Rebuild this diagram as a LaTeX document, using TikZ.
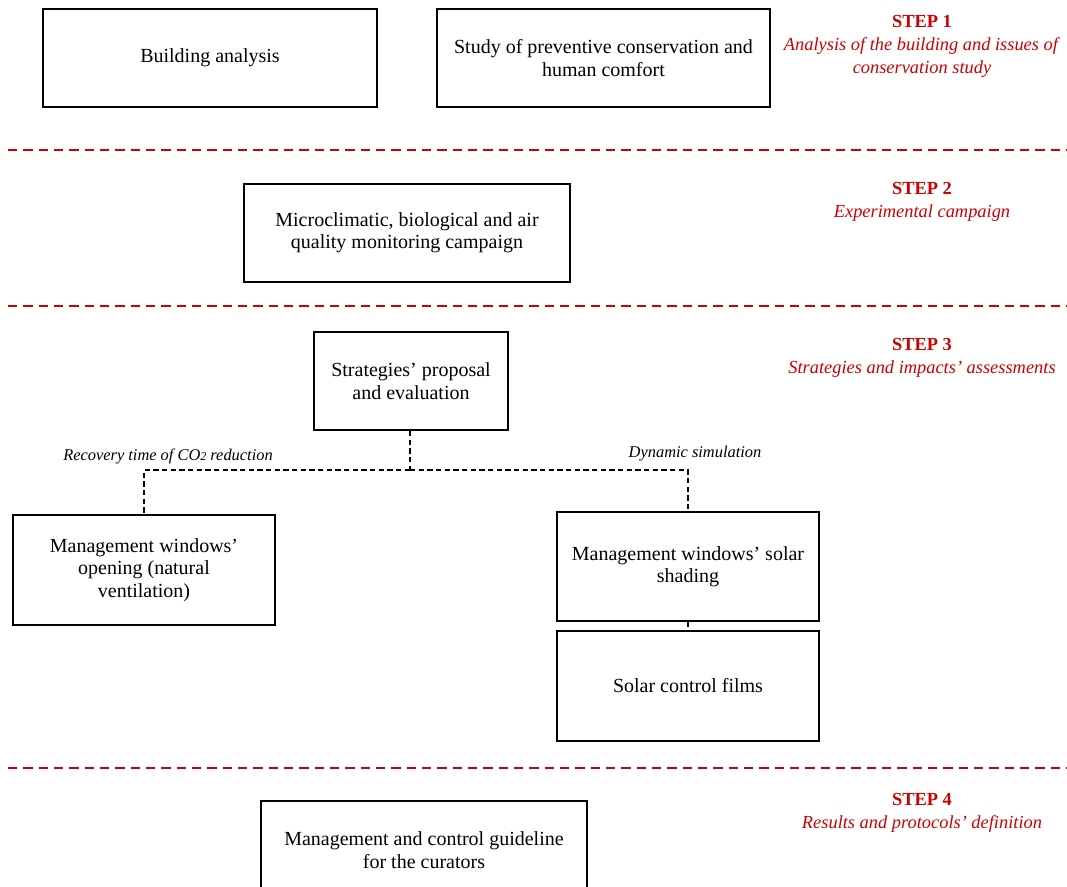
\documentclass[tikz,border=0pt]{standalone}
\usepackage{fontspec}
\setmainfont{Liberation Serif}
\definecolor{stepred}{RGB}{204,0,0}
\tikzset{
  px/.style={x=0.75pt,y=-0.75pt},
  box/.style={draw=black,line width=1.5pt,fill=white,align=center,font=\fontsize{15}{16.8}\selectfont,inner sep=0pt},
  sep/.style={draw=stepred,line width=1.5pt,dash pattern=on 7pt off 4.5pt},
  conn/.style={draw=black,line width=1.2pt,dash pattern=on 4pt off 2.5pt},
  steplbl/.style={text=stepred,align=center,font=\fontsize{13.8}{17.3}\selectfont},
  edgelbl/.style={font=\fontsize{12.3}{14}\selectfont\itshape}
}
\begin{document}
\begin{tikzpicture}[px]
\useasboundingbox (0,0) rectangle (1067,886);
% separators
\draw[sep] (8,150) -- (1067,150);
\draw[sep] (8,306) -- (1067,306);
\draw[sep] (8,768) -- (1067,768);
% step 1
\node[box,minimum width=250.5pt,minimum height=73.5pt] (ba) at (210,58) {Building analysis};
\node[box,minimum width=249.75pt,minimum height=73.5pt] (sp) at (603.5,58) {Study of preventive conservation and\\human comfort};
\node[steplbl] (s1) at (922,46.5) {\textbf{STEP 1}\\\textit{Analysis of the building and issues of}\\\textit{conservation study}};
% step 2
\node[box,minimum width=244.5pt,minimum height=73.5pt] (mc) at (407,233) {Microclimatic, biological and air\\quality monitoring campaign};
\node[steplbl] (s2) at (922,202) {\textbf{STEP 2}\\\textit{Experimental campaign}};
% step 3
\node[box,minimum width=145.5pt,minimum height=73.5pt] (st) at (411,381) {Strategies' proposal\\and evaluation};
\node[steplbl] (s3) at (922,357.5) {\textbf{STEP 3}\\\textit{Strategies and impacts' assessments}};
\node[box,minimum width=196.5pt,minimum height=82.5pt] (mw) at (144,570) {Management windows'\\opening (natural\\ventilation)};
\node[box,minimum width=196.5pt,minimum height=81.75pt] (ms) at (688,566.5) {Management windows' solar\\shading};
\node[box,minimum width=196.5pt,minimum height=82.5pt] (sc) at (688,686) {Solar control films};
\coordinate (j) at (410,470);
\draw[conn] (st.south -| j) -- (j);
\draw[conn] (j) -| (mw.north);
\draw[conn] (j) -| (ms.north);
\draw[conn] (ms.south) -- (sc.north);
\node[edgelbl] (l1) at (168,456) {Recovery time of CO{\fontsize{9}{10}\selectfont 2} reduction};
\node[edgelbl] (l2) at (695,454) {Dynamic simulation};
% step 4
\node[box,minimum width=244.5pt,minimum height=73.5pt,anchor=north] (mg) at (424,800) {Management and control guideline\\for the curators};
\node[steplbl] (s4) at (922,813) {\textbf{STEP 4}\\\textit{Results and protocols' definition}};
\end{tikzpicture}
\end{document}
